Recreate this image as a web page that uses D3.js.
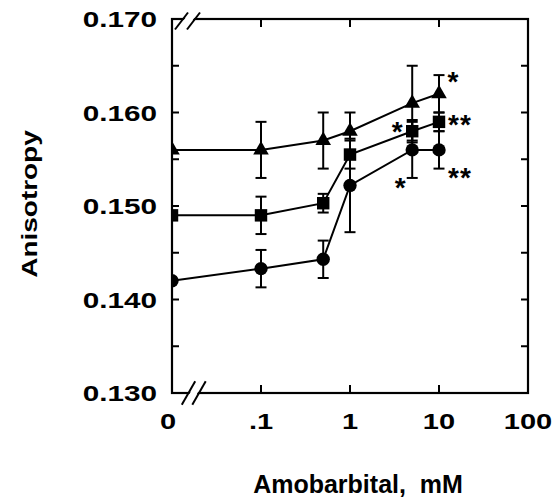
<!DOCTYPE html>
<html>
<head>
<meta charset="utf-8">
<script src="https://cdn.jsdelivr.net/npm/d3@7"></script>
<style>
  html, body { margin: 0; padding: 0; background: #fff; }
  svg { display: block; }
  text { font-family: "Liberation Sans", Arial, Helvetica, sans-serif; font-weight: bold; fill: #000; white-space: pre; }
</style>
</head>
<body>
<svg id="chart" width="557" height="500"></svg>
<script>
// ---------------- data ----------------
const doses = [0, 0.1, 0.5, 1, 5, 10];                 // Amobarbital, mM
const triangleVals = [0.156, 0.156, 0.157, 0.158, 0.161, 0.162];
const triangleErr  = [0, 0.003, 0.003, 0.002, 0.004, 0.002];
const squareVals   = [0.149, 0.149, 0.1503, 0.1555, 0.158, 0.159];
const squareErr    = [0, 0.002, 0.001, 0.0015, 0.0012, 0.001];
const circleVals   = [0.142, 0.1433, 0.1443, 0.1522, 0.156, 0.156];
const circleErr    = [0, 0.002, 0.002, 0.005, 0.003, 0.002];

const xTickVals   = [0, 0.1, 1, 10, 100];
const xTickLabels = ["0", ".1", "1", "10", "100"];
const yTickVals   = [0.130, 0.140, 0.150, 0.160, 0.170];
const yTickLabels = ["0.130", "0.140", "0.150", "0.160", "0.170"];
const yMinorVals  = [0.135, 0.145, 0.155, 0.165];

const annoText   = ["*", "**", "*", "**", "*"];
const annoSeries = ["triangle", "square", "square", "circle", "circle"];
const annoDose   = [10, 10, 5, 10, 5];

// ---------------- layout ----------------
const svg = d3.select("#chart");
const L = 172, R = 528, T = 19, B = 393;
const ZERO_AS = 0.01; // where "0" sits on the broken log axis

const xLog = d3.scaleLog().domain([ZERO_AS, 100]).range([L, R]);
const x = v => xLog(v === 0 ? ZERO_AS : v);
const y = d3.scaleLinear().domain([0.130, 0.170]).range([B, T]);

const series = [
  { key: "triangle", vals: triangleVals, err: triangleErr, sym: d3.symbolTriangle, size: 105 },
  { key: "square",   vals: squareVals,   err: squareErr,   sym: d3.symbolSquare,   size: 155 },
  { key: "circle",   vals: circleVals,   err: circleErr,   sym: d3.symbolCircle,   size: 140 }
];

svg.append("defs").append("clipPath").attr("id", "plotclip")
  .append("rect").attr("x", L).attr("y", 0).attr("width", R - L).attr("height", 500);

// ---------------- axes box ----------------
const axisW = 2.2;
svg.append("rect").attr("x", L).attr("y", T).attr("width", R - L).attr("height", B - T)
  .attr("fill", "none").attr("stroke", "#000").attr("stroke-width", axisW);

// x ticks (top & bottom, inward)
const xInner = xTickVals.filter(v => v > 0 && v < 100);
xInner.forEach(v => {
  svg.append("line").attr("x1", x(v)).attr("x2", x(v)).attr("y1", B).attr("y2", B - 8)
    .attr("stroke", "#000").attr("stroke-width", 2);
  svg.append("line").attr("x1", x(v)).attr("x2", x(v)).attr("y1", T).attr("y2", T + 8)
    .attr("stroke", "#000").attr("stroke-width", 2);
});

// y ticks (left & right, inward)
const yInnerMajor = yTickVals.filter(v => v > 0.130 && v < 0.170);
yInnerMajor.concat(yMinorVals).forEach(v => {
  svg.append("line").attr("x1", L).attr("x2", L + 7).attr("y1", y(v)).attr("y2", y(v))
    .attr("stroke", "#000").attr("stroke-width", 2);
  svg.append("line").attr("x1", R).attr("x2", R - 7).attr("y1", y(v)).attr("y2", y(v))
    .attr("stroke", "#000").attr("stroke-width", 2);
});

// y tick labels
yTickVals.forEach((v, i) => {
  svg.append("g").attr("transform", `translate(157,${y(v) + 8}) scale(1.35,1)`)
    .append("text").attr("text-anchor", "end").attr("font-size", 22).text(yTickLabels[i]);
});

// x tick labels
xTickVals.forEach((v, i) => {
  const px = x(v) - (v === 0 ? 4 : 0);
  svg.append("g").attr("transform", `translate(${px},429) scale(1.32,1)`)
    .append("text").attr("text-anchor", "middle").attr("font-size", 22).text(xTickLabels[i]);
});

// axis titles
svg.append("g").attr("transform", "translate(36.5,204) rotate(-90) scale(1.27,1)")
  .append("text").attr("text-anchor", "middle").attr("font-size", 22).text("Anisotropy");
svg.append("g").attr("transform", "translate(358,493)")
  .append("text").attr("text-anchor", "middle").attr("font-size", 25).text("Amobarbital,  mM");

// axis break marks
function breakMark(c1, c2, cy, dx, dy) {
  svg.append("polygon")
    .attr("points", `${c1 - dx + 1.5},${cy + dy} ${c1 + dx + 1.5},${cy - dy} ${c2 + dx - 1.5},${cy - dy} ${c2 - dx - 1.5},${cy + dy}`)
    .attr("fill", "#fff");
  [c1, c2].forEach(c => {
    svg.append("line").attr("x1", c - dx).attr("y1", cy + dy).attr("x2", c + dx).attr("y2", cy - dy)
      .attr("stroke", "#000").attr("stroke-width", 2);
  });
}
breakMark(181.5, 193.5, 21, 6.5, 8.5);
breakMark(188.5, 199, 393, 6.7, 11.7);

// ---------------- data marks ----------------
const plot = svg.append("g").attr("clip-path", "url(#plotclip)");

series.forEach(s => {
  const pts = doses.map((d, i) => ({ d, v: s.vals[i], e: s.err[i] }));
  plot.append("path").datum(pts)
    .attr("d", d3.line().x(p => x(p.d)).y(p => y(p.v)))
    .attr("fill", "none").attr("stroke", "#000").attr("stroke-width", 2);
});

series.forEach(s => {
  const pts = doses.map((d, i) => ({ d, v: s.vals[i], e: s.err[i] })).filter(p => p.e > 0);
  const g = plot.append("g");
  pts.forEach(p => {
    const cx = x(p.d), yt = y(p.v + p.e), yb = y(p.v - p.e);
    g.append("line").attr("x1", cx).attr("x2", cx).attr("y1", yt).attr("y2", yb)
      .attr("stroke", "#000").attr("stroke-width", 2);
    [yt, yb].forEach(yy => g.append("line").attr("x1", cx - 5.5).attr("x2", cx + 5.5)
      .attr("y1", yy).attr("y2", yy).attr("stroke", "#000").attr("stroke-width", 2));
  });
});

series.forEach(s => {
  plot.append("g").selectAll("path").data(doses.map((d, i) => ({ d, v: s.vals[i] })))
    .join("path")
    .attr("transform", p => `translate(${x(p.d)},${y(p.v)})`)
    .attr("d", d3.symbol().type(s.sym).size(s.size))
    .attr("fill", "#000");
});

// significance asterisks
const annoOffset = { "triangle|10": [14, -19], "square|10": [21, -4], "square|5": [-15, -6],
                     "circle|10": [21, 21], "circle|5": [-12, 31] };
annoText.forEach((t, i) => {
  const s = series.find(q => q.key === annoSeries[i]);
  const idx = doses.indexOf(annoDose[i]);
  const off = annoOffset[annoSeries[i] + "|" + annoDose[i]];
  const cx = x(annoDose[i]) + off[0], cy = y(s.vals[idx]) + off[1];
  svg.append("text").attr("x", cx).attr("y", cy + 16).attr("text-anchor", "middle")
    .attr("font-size", 28).attr("font-weight", "normal").attr("letter-spacing", t.length > 1 ? 1 : 0)
    .text(t);
});
</script>
</body>
</html>
